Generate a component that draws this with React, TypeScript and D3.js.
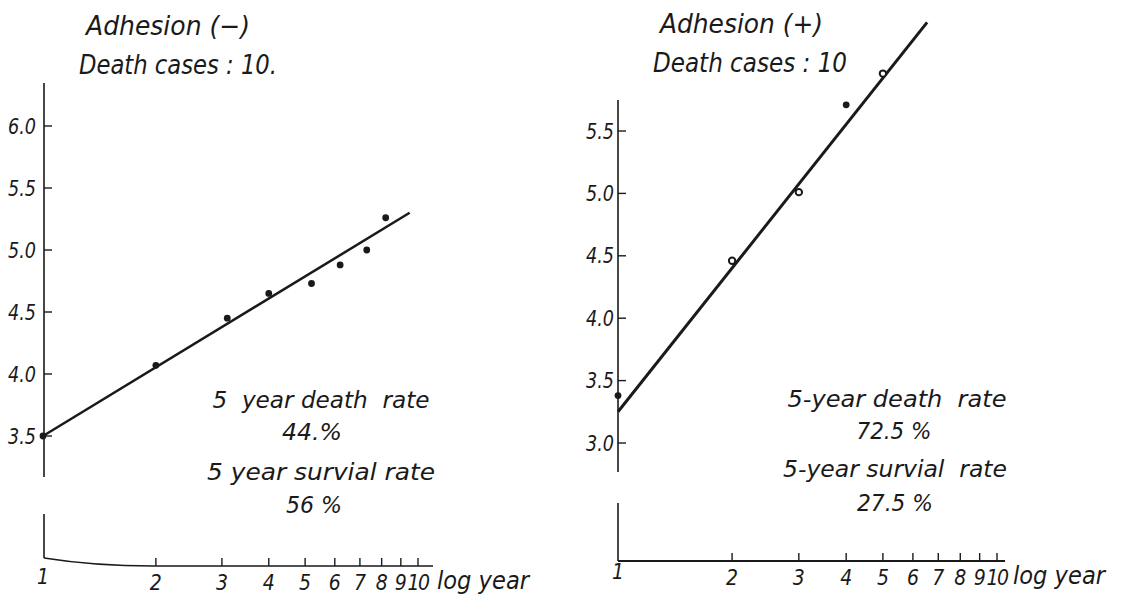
import React, { useEffect, useRef } from 'react';
import * as d3 from 'd3';

// values
const xTicks = [1, 2, 3, 4, 5, 6, 7, 8, 9, 10];

const leftYTicks = [3.5, 4.0, 4.5, 5.0, 5.5, 6.0];
const leftYears = [1, 2, 3.1, 4, 5.2, 6.2, 7.3, 8.2];
const leftValues = [3.5, 4.07, 4.45, 4.65, 4.73, 4.88, 5.0, 5.26];
const leftFitYears = [1, 9.5];
const leftFitValues = [3.5, 5.3];
const leftTitle = ['Adhesion (−)', 'Death cases : 10.'];
const leftNotes = ['5  year death  rate', '44.%', '5 year survial rate', '56 %'];

const rightYTicks = [3.0, 3.5, 4.0, 4.5, 5.0, 5.5];
const rightYears = [1, 2, 3, 4, 5];
const rightValues = [3.38, 4.46, 5.01, 5.71, 5.96];
const rightHollow = [false, true, true, false, true];
const rightFitYears = [1, 6.54];
const rightFitValues = [3.25, 6.37];
const rightTitle = ['Adhesion (+)', 'Death cases : 10'];
const rightNotes = ['5-year death  rate', '72.5 %', '5-year survial  rate', '27.5 %'];

const FONT = "'DejaVu Sans Condensed', 'Liberation Sans Narrow', sans-serif";
const INK = '#1a1a1a';

const App = () => {
  const ref = useRef<SVGSVGElement>(null);

  useEffect(() => {
    const svg = d3.select(ref.current);
    svg.selectAll('*').remove();

    const panels = [
      {
        axisX: 44, xRange: [43, 418], yDomain: [3.5, 6.0], yRange: [436, 126],
        axisTop: 83, breakTop: 477, breakBottom: 514, corner: 558, baseY: 566, axisEnd: 433,
        curved: true, labelPad: 8, lineWidth: 2.5,
        yTicks: leftYTicks, years: leftYears, values: leftValues, hollow: leftYears.map(() => false),
        fitYears: leftFitYears, fitValues: leftFitValues,
        title: leftTitle, titleX: [86, 79], titleY: [35, 74], titleW: [164, 198],
        notes: leftNotes, noteX: [321, 312, 321, 314], noteY: [408, 440, 480, 513], noteW: [217, 60, 228, 56],
        logLabelX: 437,
      },
      {
        axisX: 618, xRange: [618, 997], yDomain: [3.0, 5.5], yRange: [443, 131],
        axisTop: 100, breakTop: 472, breakBottom: 503, corner: 561, baseY: 561, axisEnd: 1005,
        curved: false, labelPad: 4, lineWidth: 3,
        yTicks: rightYTicks, years: rightYears, values: rightValues, hollow: rightHollow,
        fitYears: rightFitYears, fitValues: rightFitValues,
        title: rightTitle, titleX: [660, 653], titleY: [33, 72], titleW: [163, 194],
        notes: rightNotes, noteX: [897, 894, 895, 895], noteY: [407, 439, 477, 511], noteW: [219, 75, 224, 76],
        logLabelX: 1013,
      },
    ];

    panels.forEach(p => {
      const g = svg.append('g')
        .attr('font-family', FONT)
        .attr('font-style', 'italic')
        .attr('fill', INK);

      const x = d3.scaleLog().domain([1, 10]).range(p.xRange);
      const y = d3.scaleLinear().domain(p.yDomain).range(p.yRange);

      // vertical axis, broken below the lowest tick
      g.append('line')
        .attr('x1', p.axisX).attr('x2', p.axisX)
        .attr('y1', p.axisTop).attr('y2', p.breakTop)
        .attr('stroke', INK).attr('stroke-width', 1.6);
      g.append('line')
        .attr('x1', p.axisX).attr('x2', p.axisX)
        .attr('y1', p.breakBottom).attr('y2', p.corner)
        .attr('stroke', INK).attr('stroke-width', 1.6);

      p.yTicks.forEach(t => {
        g.append('line')
          .attr('x1', p.axisX).attr('x2', p.axisX + 8)
          .attr('y1', y(t)).attr('y2', y(t))
          .attr('stroke', INK).attr('stroke-width', 1.4);
        g.append('text')
          .attr('x', p.axisX - p.labelPad)
          .attr('y', y(t))
          .attr('dy', '0.36em')
          .attr('text-anchor', 'end')
          .attr('font-size', 21)
          .attr('textLength', 28)
          .attr('lengthAdjust', 'spacingAndGlyphs')
          .text(t.toFixed(1));
      });

      // horizontal log axis
      const base = p.curved
        ? `M${p.axisX},${p.corner} Q${p.axisX + 50},${p.baseY} ${p.axisX + 110},${p.baseY} L${p.axisEnd},${p.baseY}`
        : `M${p.axisX},${p.corner} L${p.axisEnd},${p.baseY}`;
      g.append('path')
        .attr('d', base)
        .attr('fill', 'none')
        .attr('stroke', INK).attr('stroke-width', p.curved ? 1.6 : 2.2);

      xTicks.forEach(t => {
        if (t > 1) {
          g.append('line')
            .attr('x1', x(t)).attr('x2', x(t))
            .attr('y1', p.baseY).attr('y2', p.baseY - 8)
            .attr('stroke', INK).attr('stroke-width', 1.4);
        }
        g.append('text')
          .attr('x', x(t))
          .attr('y', p.baseY + (t === 1 ? 18 : 24))
          .attr('text-anchor', 'middle')
          .attr('font-size', 21)
          .attr('letter-spacing', t === 10 ? -1.5 : 0)
          .text(t);
      });
      g.append('text')
        .attr('x', p.logLabelX)
        .attr('y', p.baseY + 23)
        .attr('font-size', 24)
        .attr('textLength', 92)
        .attr('lengthAdjust', 'spacingAndGlyphs')
        .text('log year');

      // fitted line
      const fit = d3.line<number>()
        .x((_, i) => x(p.fitYears[i]))
        .y(d => y(d));
      g.append('path')
        .attr('d', fit(p.fitValues))
        .attr('fill', 'none')
        .attr('stroke', INK)
        .attr('stroke-width', p.lineWidth);

      // observed points
      p.values.forEach((v, i) => {
        g.append('circle')
          .attr('cx', x(p.years[i]))
          .attr('cy', y(v))
          .attr('r', p.hollow[i] ? 3.2 : 3.4)
          .attr('fill', p.hollow[i] ? '#fff' : INK)
          .attr('stroke', INK)
          .attr('stroke-width', p.hollow[i] ? 2 : 0);
      });

      // titles
      p.title.forEach((s, i) => {
        g.append('text')
          .attr('x', p.titleX[i])
          .attr('y', p.titleY[i])
          .attr('font-size', 26)
          .attr('textLength', p.titleW[i])
          .attr('lengthAdjust', 'spacingAndGlyphs')
          .text(s);
      });

      // rate notes
      p.notes.forEach((s, i) => {
        g.append('text')
          .attr('x', p.noteX[i])
          .attr('y', p.noteY[i])
          .attr('text-anchor', 'middle')
          .attr('font-size', 23)
          .attr('textLength', p.noteW[i])
          .attr('lengthAdjust', 'spacingAndGlyphs')
          .style('white-space', 'pre')
          .text(s);
      });
    });
  }, []);

  return (
    <svg
      ref={ref}
      width={1121}
      height={598}
      style={{ position: 'absolute', left: 0, top: 0, background: '#fff' }}
    />
  );
};

export default App;
